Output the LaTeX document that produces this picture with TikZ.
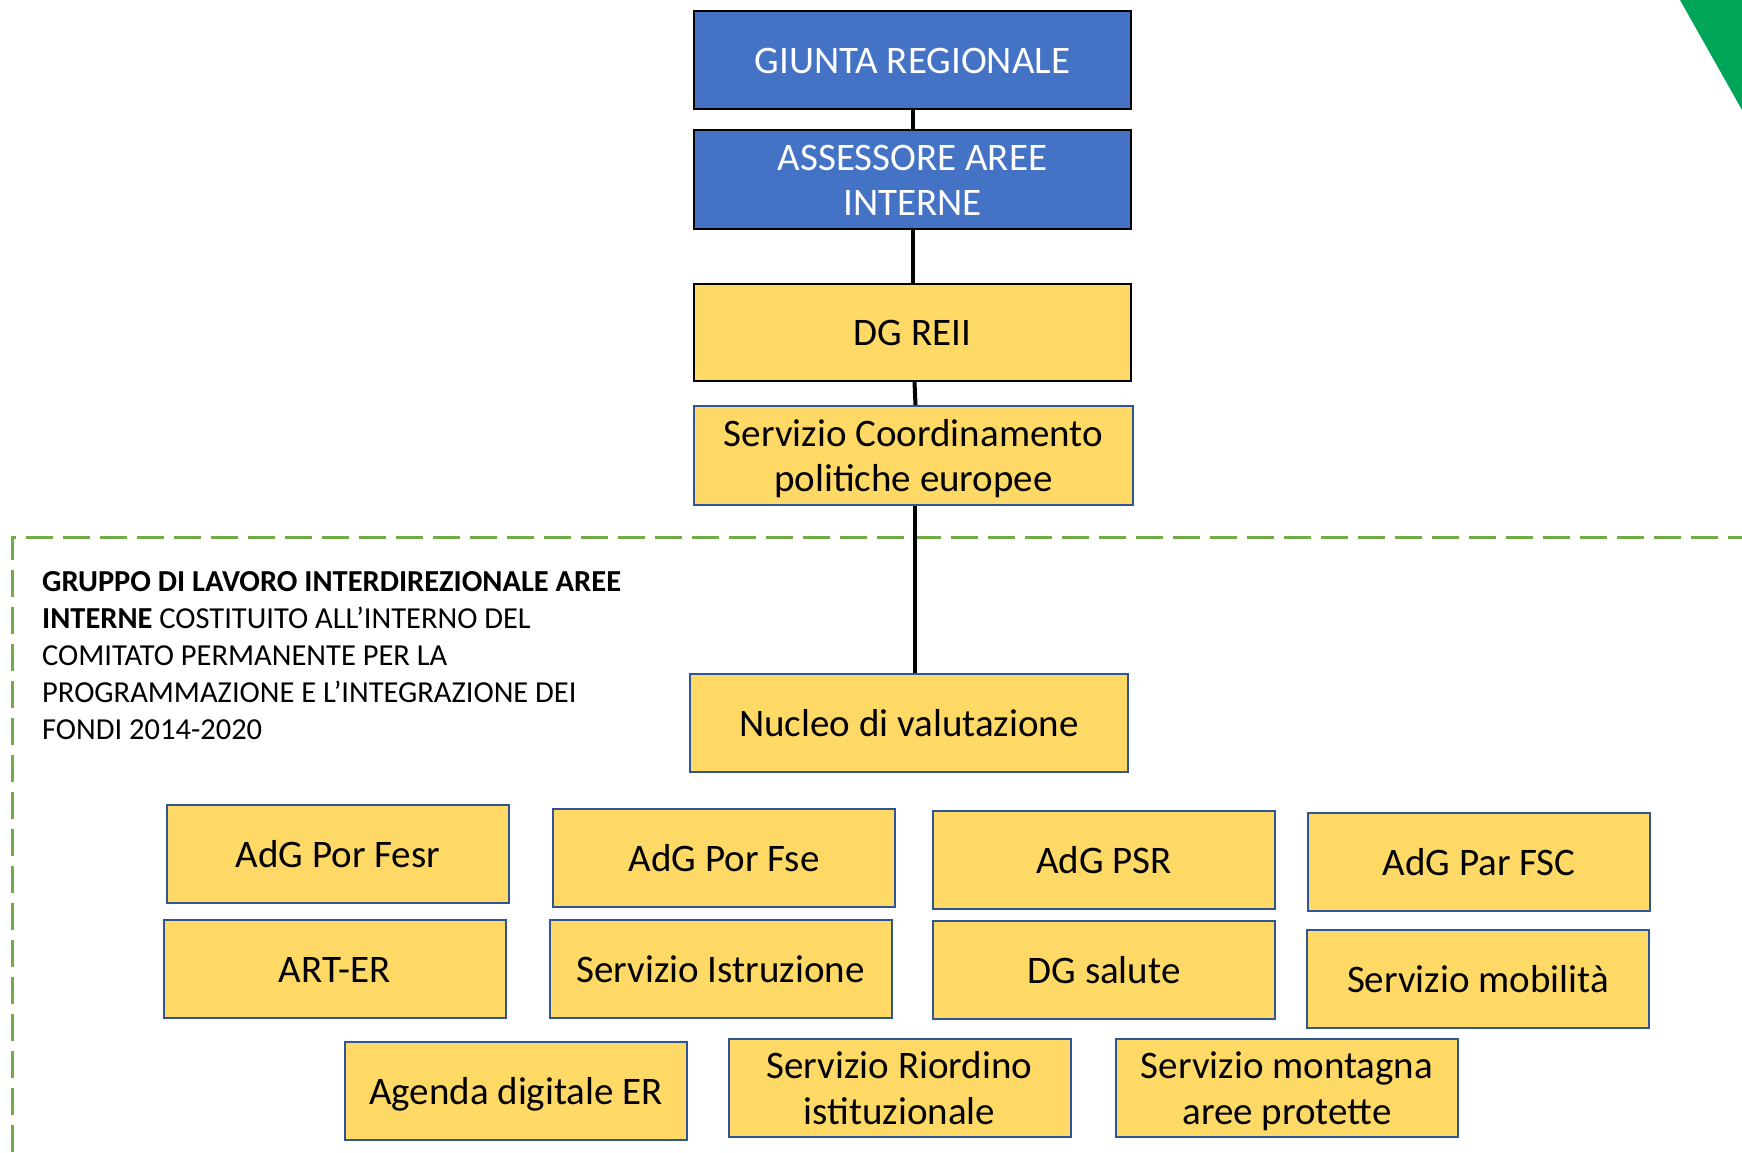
\documentclass[tikz,border=0pt]{standalone}
\usepackage{fontspec}
\setmainfont{Carlito}
\definecolor{hdrblue}{HTML}{4472C4}
\definecolor{boxyellow}{HTML}{FFD966}
\definecolor{edgeblue}{HTML}{2F5597}
\definecolor{dashgreen}{HTML}{70AD47}
\definecolor{trigreen}{HTML}{00A558}
\tikzset{
  orgbox/.style={rectangle, draw=edgeblue, line width=2pt, fill=boxyellow, inner sep=0pt,
    minimum width=342pt, minimum height=98pt, align=center,
    text height=32pt, text depth=5.4pt,
    font=\fontsize{39}{45.5}\selectfont, text=black},
  twoline/.style={text height=77.5pt, text depth=5.4pt},
  topbox/.style={orgbox, draw=black, minimum width=437pt},
  bluebox/.style={topbox, fill=hdrblue, text=white},
  link/.style={draw=black, line width=4pt},
  grpline/.style={draw=dashgreen, line width=3pt, dash pattern=on 27pt off 10pt}
}
\begin{document}
\begin{tikzpicture}[x=1pt,y=-1pt]
\useasboundingbox (0,0) rectangle (1742,1152);
\fill[trigreen] (1680,0) -- (1742,0) -- (1742,110) -- cycle;
% group frame
\draw[grpline] (12,1152) -- (12,537) -- (1742,537);
% hierarchy
\node[bluebox] (giunta) at (912.5,60) {GIUNTA REGIONALE};
\node[bluebox, twoline, minimum height=99pt] (assessore) at (912.5,179.5) {ASSESSORE AREE\\INTERNE};
\node[topbox, minimum height=97pt] (dgreii) at (912.5,332.5) {DG REII};
\node[orgbox, twoline, minimum width=439pt, minimum height=99pt] (coord) at (913.5,455.5) {Servizio Coordinamento\\politiche europee};
\node[orgbox, minimum width=438pt] (nucleo) at (909,723) {Nucleo di valutazione};
% connectors
\draw[link] (giunta.south) -- (assessore.north);
\draw[link] (assessore.south) -- (dgreii.north);
\draw[link] ([xshift=2pt]dgreii.south) -- ([xshift=2pt]coord.north);
\draw[link] ([xshift=1.5pt]coord.south) -- ([xshift=6pt]nucleo.north);
% group text
\node[anchor=north west, inner sep=0pt, align=left, font=\fontsize{30.5}{37}\selectfont] (grptext) at (42,571)
  {\textbf{GRUPPO DI LAVORO INTERDIREZIONALE AREE}\\
   \textbf{INTERNE} COSTITUITO ALL’INTERNO DEL\\
   COMITATO PERMANENTE PER LA\\
   PROGRAMMAZIONE E L’INTEGRAZIONE DEI\\
   FONDI 2014-2020};
% row 1
\node[orgbox] (fesr) at (338,854) {AdG Por Fesr};
\node[orgbox] (fse) at (724,858) {AdG Por Fse};
\node[orgbox] (psr) at (1104,860) {AdG PSR};
\node[orgbox] (fsc) at (1479,862) {AdG Par FSC};
% row 2
\node[orgbox] (arter) at (334.5,969) {ART-ER};
\node[orgbox] (istr) at (720.5,969) {Servizio Istruzione};
\node[orgbox] (salute) at (1104,970) {DG salute};
\node[orgbox] (mob) at (1478,979) {Servizio mobilità};
% row 3
\node[orgbox] (agenda) at (516,1091) {Agenda digitale ER};
\node[orgbox, twoline] (riordino) at (899.5,1088) {Servizio Riordino\\istituzionale};
\node[orgbox, twoline] (montagna) at (1287,1088) {Servizio montagna\\aree protette};
\end{tikzpicture}
\end{document}
